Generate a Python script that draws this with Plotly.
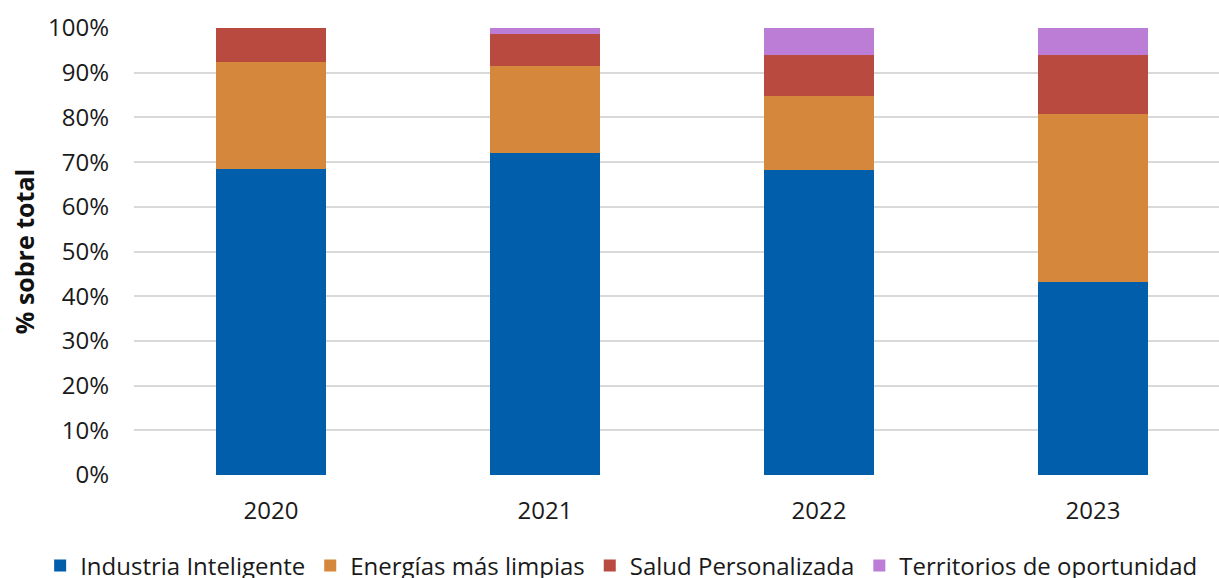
import plotly.graph_objects as go

years = ["2020", "2021", "2022", "2023"]
industria = [68.5, 72.0, 68.3, 43.2]
energias = [24.0, 19.5, 16.6, 37.5]
salud = [7.5, 7.1, 9.0, 13.2]
territorios = [0.0, 1.4, 6.1, 6.1]

series = [
    ("Industria Inteligente", industria, "#005EAB"),
    ("Energías más limpias", energias, "#D5873B"),
    ("Salud Personalizada", salud, "#B94A3F"),
    ("Territorios de oportunidad", territorios, "#BC7DD6"),
]

fig = go.Figure()
for name, vals, color in series:
    fig.add_trace(go.Bar(
        x=years, y=[v / 100 for v in vals], name=name,
        marker=dict(color=color, line=dict(width=0)),
        width=0.4,
    ))

fig.update_layout(
    barmode="stack",
    width=1219, height=578,
    margin=dict(l=134, r=0, t=28, b=103, autoexpand=False),
    paper_bgcolor="white", plot_bgcolor="white",
    font=dict(family="Open Sans", size=24, color="#1A1A1A"),
    legend=dict(
        orientation="h", x=-0.0865, xanchor="left",
        y=-0.2036, yanchor="middle",
        font=dict(size=24, color="#1A1A1A"), traceorder="normal",
        itemwidth=30, tracegroupgap=0,
    ),
    xaxis=dict(
        range=[-0.5, 3.46], showgrid=False, zeroline=False, showline=False,
        ticks="", ticklabelstandoff=19, tickfont=dict(size=24), automargin=False,
    ),
    yaxis=dict(
        range=[0, 1], dtick=0.1, tickformat=".0%", showgrid=True,
        gridcolor="#D9D9D9", gridwidth=1.5, zeroline=False, showline=False,
        ticks="", ticklabelstandoff=24, tickfont=dict(size=24), automargin=False,
        title=dict(text="<b>% sobre total</b>", font=dict(size=25, color="#111111"), standoff=6),
    ),
)

fig.write_html("out.html", config={"displayModeBar": False},
               post_script="document.body.style.margin='0';")
